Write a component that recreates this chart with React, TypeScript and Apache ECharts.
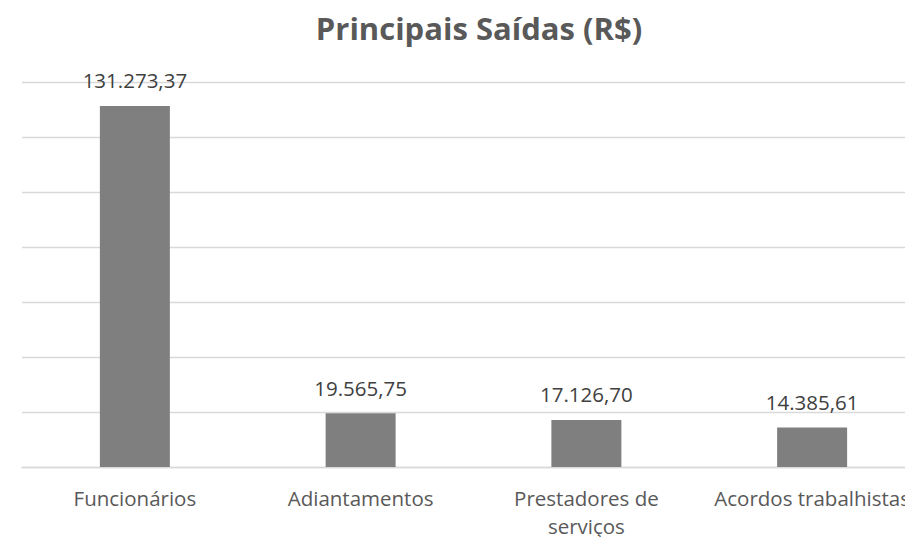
import React, { useEffect, useRef } from "react";
import * as echarts from "echarts";

const titleText = "Principais Saídas (R$)";
const categories = ["Funcionários", "Adiantamentos", "Prestadores de serviços", "Acordos trabalhistas"];
const values = [131273.37, 19565.75, 17126.7, 14385.61];
const yMin = 0;
const yMax = 140000;
const yInterval = 20000;

function formatBR(v: number): string {
  const fixed = v.toFixed(2);
  const [intPart, dec] = fixed.split(".");
  const withDots = intPart.replace(/\B(?=(\d{3})+(?!\d))/g, ".");
  return withDots + "," + dec;
}

export default function App() {
  const ref = useRef<HTMLDivElement>(null);
  useEffect(() => {
    if (!ref.current) return;
    const chart = echarts.init(ref.current, undefined, { renderer: "svg" });
    chart.setOption({
      animation: false,
      backgroundColor: "#ffffff",
      title: {
        text: titleText,
        left: 474,
        textAlign: "center",
        top: 7,
        textStyle: {
          fontFamily: "Open Sans",
          fontWeight: "bold",
          fontSize: 31,
          color: "#595959",
        },
      },
      grid: { left: 22, right: 5, top: 82, bottom: 70, containLabel: false, outerBoundsMode: "none" },
      xAxis: {
        type: "category",
        data: categories,
        axisLine: { show: true, lineStyle: { color: "#d9d9d9", width: 1.3 } },
        axisTick: { show: false },
        axisLabel: {
          interval: 0,
          margin: 17,
          fontFamily: "Open Sans",
          fontSize: 20.5,
          lineHeight: 28,
          color: "#595959",
          formatter: (v: string) => (v === "Prestadores de serviços" ? "Prestadores de\nserviços" : v),
        },
      },
      yAxis: {
        type: "value",
        min: yMin,
        max: yMax,
        interval: yInterval,
        axisLabel: { show: false },
        axisLine: { show: false },
        axisTick: { show: false },
        splitLine: { show: true, lineStyle: { color: "#d9d9d9", width: 1.3 } },
      },
      series: [
        {
          type: "bar",
          data: values,
          barWidth: 70,
          itemStyle: { color: "#7f7f7f" },
          label: {
            show: true,
            position: "top",
            distance: 15,
            fontFamily: "Open Sans",
            fontSize: 20.5,
            color: "#404040",
            formatter: (p: any) => formatBR(p.value),
          },
        },
      ],
    });
    return () => chart.dispose();
  }, []);
  return (
    <div style={{ position: "fixed", left: 0, top: 0, width: 905, height: 537, overflow: "hidden", background: "#fff" }}>
      <div ref={ref} style={{ width: 930, height: 537 }} />
    </div>
  );
}
